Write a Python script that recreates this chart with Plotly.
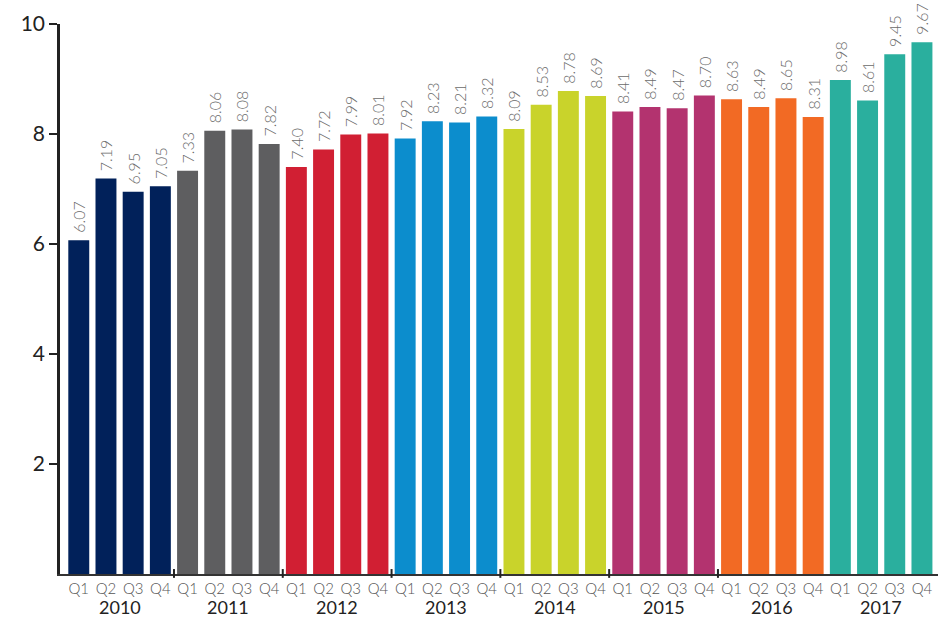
import plotly.graph_objects as go

years = ["2010", "2011", "2012", "2013", "2014", "2015", "2016", "2017"]
quarters = ["Q1", "Q2", "Q3", "Q4"]
values = [
    6.07, 7.19, 6.95, 7.05,
    7.33, 8.06, 8.08, 7.82,
    7.40, 7.72, 7.99, 8.01,
    7.92, 8.23, 8.21, 8.32,
    8.09, 8.53, 8.78, 8.69,
    8.41, 8.49, 8.47, 8.70,
    8.63, 8.49, 8.65, 8.31,
    8.98, 8.61, 9.45, 9.67,
]
year_colors = ["#01215A", "#5E5E60", "#D11F33", "#0C8DCD",
               "#C9D32B", "#B3336F", "#F26A24", "#2AAF9E"]
y_ticks = [2, 4, 6, 8, 10]

n_q = len(quarters)
x = list(range(len(values)))
colors = [year_colors[i // n_q] for i in x]
qlabels = [quarters[i % n_q] for i in x]

FONT = "Lato"

fig = go.Figure()
fig.add_trace(go.Bar(
    x=x, y=values,
    marker=dict(color=colors, line=dict(width=0)),
    text=["\u00a0" + f"{v:.2f}" for v in values],
    textposition="outside",
    textangle=-90,
    constraintext="none",
    textfont=dict(family=FONT, size=16, color="#6b6b6b", weight=300),
    cliponaxis=False,
    hoverinfo="skip",
))

# year labels
for gi, yr in enumerate(years):
    fig.add_annotation(
        x=gi * n_q + (n_q - 1) / 2, y=0, xref="x", yref="paper",
        yanchor="middle", yshift=-33, text=yr, showarrow=False,
        borderpad=0,
        font=dict(family=FONT, size=18, color="#222222"),
    )

# divider ticks between year groups (none drawn before the last group in the reference)
for gi in range(1, len(years) - 1):
    b = gi * n_q - 0.5
    fig.add_shape(type="line", xref="x", yref="paper",
                  x0=b, x1=b, y0=-0.007, y1=0.009,
                  line=dict(color="#222222", width=2))

fig.update_layout(
    width=946, height=618,
    margin=dict(l=60, r=8, t=24, b=44, autoexpand=False),
    paper_bgcolor="white", plot_bgcolor="white",
    bargap=0.23,
    showlegend=False,
    font=dict(family=FONT),
)
fig.update_xaxes(
    automargin=False,
    range=[-0.69, 31.59],
    tickmode="array", tickvals=x, ticktext=qlabels,
    tickfont=dict(family=FONT, size=15, color="#555555", weight=300),
    ticks="", ticklen=0, showgrid=False, zeroline=False,
    showline=True, linecolor="#333333", linewidth=2,
)
fig.update_yaxes(
    automargin=False,
    range=[0, 10],
    tickmode="array", tickvals=y_ticks,
    tickfont=dict(family=FONT, size=21, color="#222222"),
    ticks="outside", ticklen=8, tickwidth=2, tickcolor="#222222",
    showgrid=False, zeroline=False,
    showline=True, linecolor="#222222", linewidth=2.5,
)

fig.write_html("out.html",
               config={"displayModeBar": False},
               post_script="document.body.style.margin='0';document.body.style.overflow='hidden';")
